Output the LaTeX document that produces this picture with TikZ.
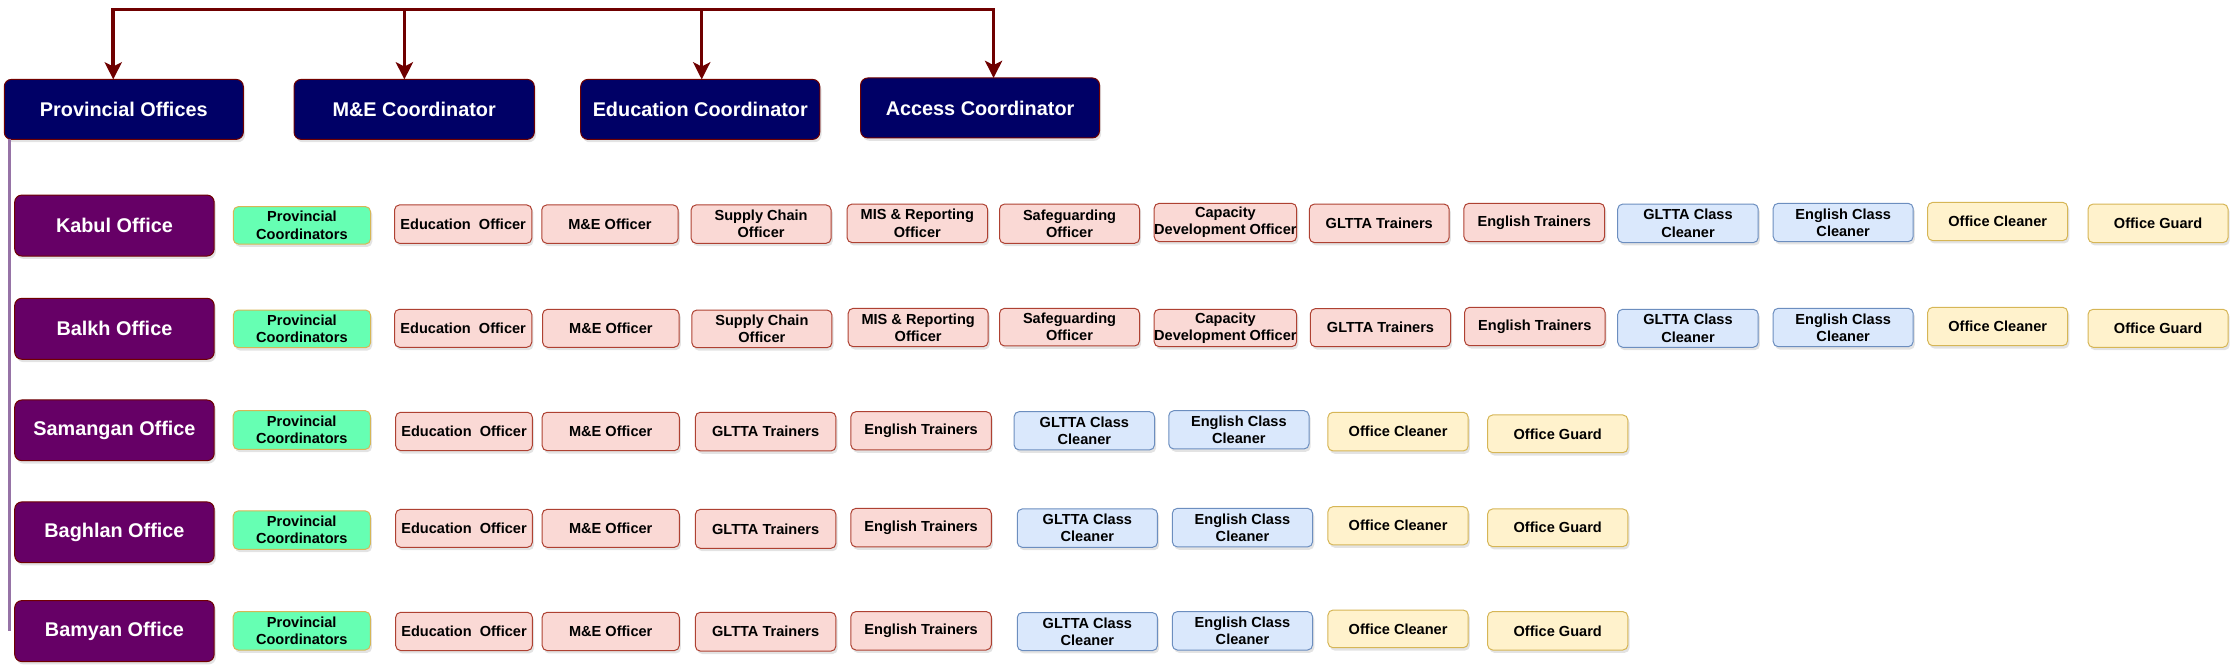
\documentclass[tikz,border=0pt]{standalone}
\usepackage{fontspec}
\setmainfont{Liberation Sans}
\usetikzlibrary{arrows.meta,shadows}
\definecolor{navyc}{HTML}{000066}
\definecolor{maroonc}{HTML}{6F0000}
\definecolor{plumc}{HTML}{660066}
\definecolor{mintf}{HTML}{66FFB3}
\definecolor{mintd}{HTML}{D6B656}
\definecolor{pinkf}{HTML}{FAD9D5}
\definecolor{pinkd}{HTML}{AE4132}
\definecolor{bluef}{HTML}{DAE8FC}
\definecolor{blued}{HTML}{6C8EBF}
\definecolor{yelf}{HTML}{FFF2CC}
\definecolor{yeld}{HTML}{D6B656}
\definecolor{vlinec}{HTML}{9673A6}
\tikzset{
  cellbase/.style={rounded corners=3.5pt, inner sep=0pt, outer sep=0pt, align=center,
    line width=0.7pt, text=black, font=\bfseries\fontsize{10.2}{12}\selectfont,
    drop shadow={opacity=0.22, shadow xshift=1.2pt, shadow yshift=-2pt}},
  topbox/.style={cellbase, fill=navyc, draw=maroonc, text=white, rounded corners=5pt,
    font=\bfseries\fontsize{13.9}{16}\selectfont},
  rowbox/.style={cellbase, fill=plumc, draw=maroonc, text=white, rounded corners=5pt,
    font=\bfseries\fontsize{13.9}{16}\selectfont},
  gbox/.style={cellbase, fill=mintf, draw=mintd},
  pbox/.style={cellbase, fill=pinkf, draw=pinkd},
  bluebox/.style={cellbase, fill=bluef, draw=blued},
  ybox/.style={cellbase, fill=yelf, draw=yeld},
  link/.style={draw=maroonc, line width=2.5pt},
  arr/.style={link, -{Stealth[length=12pt,width=12pt,inset=3pt]}},
  vline/.style={draw=vlinec, line width=2pt}
}
\newcommand\mkbox[7]{\node[#6, minimum width={#4pt-#2pt}, minimum height={#5pt-#3pt}] (#1) at ({(#2+#4)/2},{(#3+#5)/2}) {#7};}
\begin{document}
\begin{tikzpicture}[x=1pt,y=-1pt]
\useasboundingbox (0,0) rectangle (1568,469.2);
% top boxes
\mkbox{po}{3}{55.6}{170.4}{97.6}{topbox}{Provincial Offices}
\mkbox{mec}{205.9}{55.6}{374.2}{97.6}{topbox}{M\&E Coordinator}
\mkbox{edc}{406.7}{55.6}{574.1}{97.6}{topbox}{Education Coordinator}
\mkbox{acc}{602.7}{54.6}{770}{96.6}{topbox}{Access Coordinator}
\coordinate (b1) at (79.3,6.7);
\coordinate (b2) at (283.2,6.7);
\coordinate (b3) at (491.4,6.7);
\coordinate (b4) at (695.8,6.7);
\draw[arr] (b2) -- (b1) -- (b1 |- po.north);
\draw[arr] (b3) -- (b4) -- (b4 |- acc.north);
\draw[link] (b2) -- (b3);
\draw[arr] (b2) -- (b2 |- mec.north);
\draw[arr] (b3) -- (b3 |- edc.north);
% row labels
\mkbox{kab}{10.3}{136.6}{150}{179.3}{rowbox}{Kabul Office}
\mkbox{bal}{10.3}{208.9}{150}{251.6}{rowbox}{Balkh Office}
\mkbox{sam}{10.3}{280.1}{150}{322.6}{rowbox}{Samangan Office}
\mkbox{bag}{10.3}{351.5}{150}{394}{rowbox}{Baghlan Office}
\mkbox{bam}{10.3}{420.6}{150}{463.3}{rowbox}{Bamyan Office}
\coordinate (vx) at (6.5,0);
\draw[vline] (vx |- po.south) -- (vx |- bam.west);
% Kabul row
\mkbox{kg}{163.4}{144.7}{259.5}{170.9}{gbox}{Provincial\\Coordinators}
\mkbox{ked}{276.3}{143.5}{372.4}{170.4}{pbox}{Education~ Officer}
\mkbox{kme}{379.4}{143.5}{474.9}{170.4}{pbox}{M\&E Officer}
\mkbox{ksc}{484}{143.5}{582}{170.4}{pbox}{Supply Chain\\Officer}
\mkbox{kmis}{593.2}{142.9}{691.6}{169.9}{pbox}{MIS \& Reporting\\Officer}
\mkbox{ksg}{700}{142.9}{798}{170.4}{pbox}{Safeguarding\\Officer}
\mkbox{kcap}{809}{142.4}{907.3}{169.2}{pbox}{Capacity\\Development Officer}
\mkbox{kgt}{917}{142.9}{1014.8}{169.9}{pbox}{GLTTA Trainers}
\mkbox{ket}{1025.2}{142.4}{1123.7}{169.2}{pbox}{English Trainers}
\mkbox{kgcc}{1132.9}{142.9}{1231.3}{169.9}{bluebox}{GLTTA Class\\Cleaner}
\mkbox{kecc}{1241.8}{142.4}{1339.8}{169.2}{bluebox}{English Class\\Cleaner}
\mkbox{koc}{1350}{141.7}{1448}{168.5}{ybox}{Office Cleaner}
\mkbox{kog}{1462.3}{142.9}{1560.3}{169.9}{ybox}{Office Guard}
% Balkh row
\mkbox{lg}{163.4}{217.1}{259.5}{243.5}{gbox}{Provincial\\Coordinators}
\mkbox{led}{276.3}{216.6}{372.4}{243.2}{pbox}{Education~ Officer}
\mkbox{lme}{380}{216.6}{475.6}{243.2}{pbox}{M\&E Officer}
\mkbox{lsc}{484.5}{217.1}{582.6}{243.5}{pbox}{Supply Chain\\Officer}
\mkbox{lmis}{594}{215.9}{692}{242.8}{pbox}{MIS \& Reporting\\Officer}
\mkbox{lsg}{700}{215.9}{798}{242.3}{pbox}{Safeguarding\\Officer}
\mkbox{lcap}{809}{216.6}{907.3}{242.8}{pbox}{Capacity\\Development Officer}
\mkbox{lgt}{917.7}{216.1}{1015.8}{242.8}{pbox}{GLTTA Trainers}
\mkbox{let}{1025.7}{215.2}{1124}{242.1}{pbox}{English Trainers}
\mkbox{lgcc}{1132.9}{216.6}{1231.3}{243.2}{bluebox}{GLTTA Class\\Cleaner}
\mkbox{lecc}{1241.8}{215.9}{1339.8}{242.8}{bluebox}{English Class\\Cleaner}
\mkbox{loc}{1350}{215.2}{1448}{242.1}{ybox}{Office Cleaner}
\mkbox{log}{1462.3}{216.6}{1560.3}{243.2}{ybox}{Office Guard}
% Samangan row
\mkbox{sg}{163.3}{287.6}{259.3}{314.7}{gbox}{Provincial\\Coordinators}
\mkbox{sed}{277.1}{288.7}{372.8}{315.6}{pbox}{Education~ Officer}
\mkbox{sme}{379.7}{288.7}{475.7}{315.6}{pbox}{M\&E Officer}
\mkbox{sgt}{487}{288.7}{585.4}{315.8}{pbox}{GLTTA Trainers}
\mkbox{set}{595.9}{288.3}{694.2}{315.1}{pbox}{English Trainers}
\mkbox{sgcc}{710.2}{288.3}{808.5}{315.1}{bluebox}{GLTTA Class\\Cleaner}
\mkbox{secc}{818.5}{287.6}{916.7}{314.4}{bluebox}{English Class\\Cleaner}
\mkbox{soc}{930}{288.7}{1028.2}{315.8}{ybox}{Office Cleaner}
\mkbox{sog}{1041.8}{290.6}{1140}{317}{ybox}{Office Guard}
% Baghlan row
\mkbox{gg}{163.3}{357.8}{259.3}{384.7}{gbox}{Provincial\\Coordinators}
\mkbox{ged}{277.1}{356.7}{372.8}{383.3}{pbox}{Education~ Officer}
\mkbox{gme}{379.7}{356.7}{475.7}{383.3}{pbox}{M\&E Officer}
\mkbox{ggt}{487}{356.7}{585.4}{384}{pbox}{GLTTA Trainers}
\mkbox{get}{595.9}{356}{694.2}{383}{pbox}{English Trainers}
\mkbox{ggcc}{712.4}{356.4}{810.6}{383.3}{bluebox}{GLTTA Class\\Cleaner}
\mkbox{gecc}{821}{356}{919.2}{383}{bluebox}{English Class\\Cleaner}
\mkbox{goc}{930}{354.8}{1028.2}{381.6}{ybox}{Office Cleaner}
\mkbox{gog}{1041.8}{356.4}{1140}{382.8}{ybox}{Office Guard}
% Bamyan row
\mkbox{mg}{163.3}{428.3}{259.3}{455.2}{gbox}{Provincial\\Coordinators}
\mkbox{med}{277.1}{428.8}{372.8}{455.6}{pbox}{Education~ Officer}
\mkbox{mme}{379.7}{428.8}{475.7}{455.6}{pbox}{M\&E Officer}
\mkbox{mgt}{487}{428.8}{585.4}{456}{pbox}{GLTTA Trainers}
\mkbox{met}{595.9}{428.3}{694.2}{455.2}{pbox}{English Trainers}
\mkbox{mgcc}{712.4}{429}{810.6}{455.6}{bluebox}{GLTTA Class\\Cleaner}
\mkbox{mecc}{821}{428.3}{919.2}{455.2}{bluebox}{English Class\\Cleaner}
\mkbox{moc}{930}{427.2}{1028.2}{453.6}{ybox}{Office Cleaner}
\mkbox{mog}{1041.8}{428.3}{1140}{455.2}{ybox}{Office Guard}
\end{tikzpicture}
\end{document}
